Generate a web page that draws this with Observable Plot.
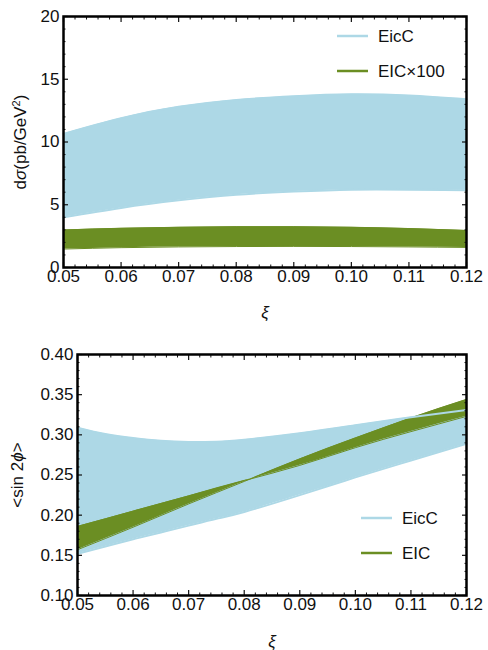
<!DOCTYPE html>
<html><head><meta charset="utf-8">
<script src="https://cdn.jsdelivr.net/npm/d3@7"></script>
<script src="https://cdn.jsdelivr.net/npm/@observablehq/plot@0.6"></script>
<style>
body{margin:0;background:#fff;width:488px;height:650px;overflow:hidden}
#c svg{display:block}
</style></head><body><div id="c"></div>
<script>
// ---- data ----
const xi = [0.05, 0.06, 0.07, 0.08, 0.09, 0.10, 0.11, 0.12];
// top panel: dσ (pb/GeV^2)
const sigmaEicCUpper = [10.65, 11.9, 12.8, 13.35, 13.65, 13.8, 13.7, 13.4];
const sigmaEicCLower = [4.0, 4.75, 5.35, 5.8, 6.05, 6.2, 6.2, 6.15];
const sigmaEICUpper = [2.99, 3.12, 3.2, 3.25, 3.25, 3.2, 3.1, 2.95];
const sigmaEICLower = [1.47, 1.58, 1.64, 1.67, 1.68, 1.67, 1.64, 1.6];
// bottom panel: <sin 2φ>
const xiFine = [0.05, 0.055, 0.06, 0.065, 0.07, 0.075, 0.08, 0.09, 0.10, 0.11, 0.12];
const asymEicCUpper = [0.309, 0.301, 0.296, 0.2925, 0.291, 0.2915, 0.294, 0.302, 0.312, 0.322, 0.331];
const asymEicCLower = [0.152, 0.161, 0.170, 0.1785, 0.187, 0.1955, 0.204, 0.225, 0.247, 0.268, 0.289];
const asymEICCurveA = [0.186, 0.205, 0.224, 0.243, 0.262, 0.284, 0.304, 0.323];
const asymEICCurveB = [0.157, 0.185, 0.214, 0.242, 0.270, 0.296, 0.321, 0.344];
// ticks
const xTicks = [0.05, 0.06, 0.07, 0.08, 0.09, 0.10, 0.11, 0.12];
const topYTicks = [0, 5, 10, 15, 20];
const bottomYTicks = [0.10, 0.15, 0.20, 0.25, 0.30, 0.35, 0.40];
const topLegend = ["EicC", "EIC\u00d7100"];
const bottomLegend = ["EicC", "EIC"];

const LB = "#add8e6", OG = "#6b8e23";
const FONT = "'Liberation Sans', Arial, Helvetica, sans-serif";

const topBlue = xi.map((x, i) => ({x, lo: sigmaEicCLower[i], hi: sigmaEicCUpper[i]}));
const topGreen = xi.map((x, i) => ({x, lo: sigmaEICLower[i], hi: sigmaEICUpper[i]}));
const botBlue = xiFine.map((x, i) => ({x, lo: asymEicCLower[i], hi: asymEicCUpper[i]}));
const botGreen = xi.map((x, i) => ({x, lo: asymEICCurveB[i], hi: asymEICCurveA[i]}));

function range(a, b, s) { const r = []; for (let v = a; v <= b + s / 2; v += s) r.push(+v.toFixed(6)); return r; }
const xMinor = range(0.05, 0.12, 0.002).filter(v => !xTicks.some(t => Math.abs(t - v) < 1e-9));

function panel({blue, green, yDomain, yTicks, yMinor, yFmt, height, marginLeft, marginTop, marginBottom, ylabel, labelOffsetY, labelOffsetX}) {
  const tk = {tickSize: -5, strokeWidth: 1.2};
  const mn = {tickSize: -2.5, strokeWidth: 1, fill: "none", label: null};
  return Plot.plot({
    width: 488, height, marginLeft, marginRight: 22, marginTop, marginBottom,
    style: {fontFamily: FONT, fontSize: "17px", color: "#111", background: "white"},
    x: {domain: [0.05, 0.12]},
    y: {domain: yDomain},
    marks: [
      Plot.areaY(blue, {x: "x", y1: "lo", y2: "hi", fill: LB, curve: "natural"}),
      Plot.areaY(green, {x: "x", y1: "lo", y2: "hi", fill: OG, curve: "natural"}),
      Plot.lineY(green, {x: "x", y: "lo", stroke: OG, strokeWidth: 1, curve: "natural"}),
      Plot.lineY(green, {x: "x", y: "hi", stroke: OG, strokeWidth: 1, curve: "natural"}),
      Plot.lineY(blue, {x: "x", y: "lo", stroke: LB, strokeWidth: 2, curve: "natural"}),
      Plot.lineY(blue, {x: "x", y: "hi", stroke: LB, strokeWidth: 2, curve: "natural"}),
      Plot.axisX({ticks: xTicks, tickFormat: d3.format(".2f"), ...tk, tickPadding: 7, label: "\u03be", labelArrow: "none", labelAnchor: "center", labelOffset: labelOffsetX}),
      Plot.axisX({anchor: "top", ticks: xTicks, ...tk, fill: "none", label: null}),
      Plot.axisX({ticks: xMinor, ...mn}),
      Plot.axisX({anchor: "top", ticks: xMinor, ...mn}),
      Plot.axisY({ticks: yTicks, tickFormat: yFmt, ...tk, tickPadding: 9, label: ylabel, labelArrow: "none", labelAnchor: "center", labelOffset: labelOffsetY}),
      Plot.axisY({anchor: "right", ticks: yTicks, ...tk, fill: "none", label: null}),
      Plot.axisY({ticks: yMinor, ...mn}),
      Plot.axisY({anchor: "right", ticks: yMinor, ...mn}),
      Plot.frame({stroke: "black", strokeWidth: 2.5})
    ]
  });
}

const topMinor = range(0, 20, 1).filter(v => v % 5 !== 0);
const botMinor = range(0.10, 0.40, 0.01).filter(v => !bottomYTicks.some(t => Math.abs(t - v) < 1e-9));

const p1 = panel({blue: topBlue, green: topGreen, yDomain: [0, 20], yTicks: topYTicks, yMinor: topMinor, yFmt: d3.format("d"),
  height: 330, marginLeft: 63, marginTop: 16, marginBottom: 63, ylabel: "d\u03c3(pb/GeV2)", labelOffsetY: 50, labelOffsetX: 50});
const p2 = panel({blue: botBlue, green: botGreen, yDomain: [0.10, 0.40], yTicks: bottomYTicks, yMinor: botMinor, yFmt: d3.format(".2f"),
  height: 320, marginLeft: 77, marginTop: 24, marginBottom: 55, ylabel: "<sin 2\u03d5>", labelOffsetY: 67, labelOffsetX: 51});

const c = document.getElementById("c");
c.appendChild(p1); c.appendChild(p2);

function styleLabels(svg, yParts) {
  const s = d3.select(svg);
  s.selectAll('g[aria-label="x-axis label"] text').style("font-style", "italic").text("\u03be");
  const yt = s.select('g[aria-label="y-axis label"] text');
  yt.text(null);
  yParts.forEach(([t, st]) => {
    const sp = yt.append("tspan").text(t);
    if (st === "i") sp.style("font-style", "italic");
    if (st === "sup") sp.attr("baseline-shift", "super").style("font-size", "11px");
  });
}
styleLabels(p1, [["d"], ["\u03c3", "i"], ["(pb/GeV"], ["2", "sup"], [")"]]);
styleLabels(p2, [["<sin 2"], ["\u03d5", "i"], [">"]]);

function legend(svg, labels, x0, y0, gap) {
  const g = d3.select(svg).append("g").attr("font-family", FONT).attr("font-size", 17).attr("text-anchor", "start");
  [LB, OG].forEach((col, i) => {
    const y = y0 + i * gap;
    g.append("line").attr("x1", x0).attr("x2", x0 + 31).attr("y1", y).attr("y2", y).attr("stroke", col).attr("stroke-width", 2.5);
    g.append("text").attr("x", x0 + 41).attr("y", y).attr("dy", "0.35em").attr("fill", "#111").attr("text-anchor", "start").text(labels[i]);
  });
}
legend(p1, topLegend, 337, 36, 35);
legend(p2, bottomLegend, 361, 188, 35);
</script></body></html>
